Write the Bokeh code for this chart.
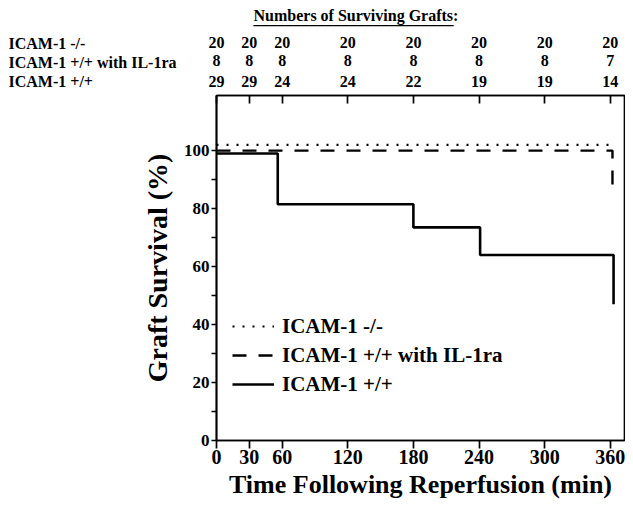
from bokeh.plotting import figure
from bokeh.models import (Range1d, FixedTicker, LinearAxis, Legend, LegendItem,
                          Label, Title)
from bokeh.embed import file_html
from bokeh.resources import INLINE

FONT = "Liberation Serif"

# ---- data -------------------------------------------------------------
times = [0, 30, 60, 120, 180, 240, 300, 360]
n_ko = [20, 20, 20, 20, 20, 20, 20, 20]
n_il1ra = [8, 8, 8, 8, 8, 8, 8, 7]
n_wt = [29, 29, 24, 24, 22, 19, 19, 14]
group_names = ["ICAM-1 -/-", "ICAM-1 +/+ with IL-1ra", "ICAM-1 +/+"]
table_title = "Numbers of Surviving Grafts:"

ko_t = [0, 359]
ko_s = [102, 102]
il_t = [0, 362]
il_s = [100, 87.5]
wt_t = [0, 56, 180, 241, 363]
wt_s = [99, 81.5, 73.5, 64, 47]

x_ticks = [0, 30, 60, 120, 180, 240, 300, 360]
y_ticks = [0, 20, 40, 60, 80, 100]
y_minor = [10, 30, 50, 70, 90]

# ---- geometry ---------------------------------------------------------
LEFT = 216
TOP = 95
FW, FH = 408, 345
X0, X1 = 0, 373
Y0, Y1 = 0, 119
KX = FW / (X1 - X0)
KY = FH / (Y1 - Y0)


def px_to_x(px):
    return X0 + (px - LEFT) / KX


def py_to_y(py):
    return Y0 + (TOP + FH - py) / KY


p = figure(frame_width=FW, frame_height=FH,
           min_border_left=LEFT, min_border_right=1,
           min_border_top=TOP, min_border_bottom=66,
           x_range=Range1d(X0, X1), y_range=Range1d(Y0, Y1),
           output_backend="svg", toolbar_location=None, tools="")
p.xgrid.visible = False
p.ygrid.visible = False
p.outline_line_color = "black"
p.outline_line_width = 1.7
p.background_fill_color = "white"
p.border_fill_color = "white"

xa = p.xaxis[0]
xa.ticker = FixedTicker(ticks=x_ticks, minor_ticks=[])
xa.major_tick_in = 0
xa.major_tick_out = 8
xa.minor_tick_out = 0
xa.major_tick_line_width = 1.7
xa.axis_line_width = 1.7
xa.major_label_text_font = FONT
xa.major_label_text_font_style = "bold"
xa.major_label_text_font_size = "20px"
xa.major_label_text_color = "black"
xa.major_label_standoff = 1
xa.axis_label = "Time Following Reperfusion (min)"
xa.axis_label_text_font = FONT
xa.axis_label_text_font_style = "bold"
xa.axis_label_text_font_size = "26px"
xa.axis_label_text_color = "black"
xa.axis_label_standoff = 3

ya = p.yaxis[0]
ya.ticker = FixedTicker(ticks=y_ticks, minor_ticks=y_minor)
ya.major_tick_in = 0
ya.major_tick_out = 5
ya.minor_tick_in = 0
ya.minor_tick_out = 5
ya.major_tick_line_width = 1.6
ya.minor_tick_line_width = 1.6
ya.axis_line_width = 1.7
ya.major_label_text_font = FONT
ya.major_label_text_font_style = "bold"
ya.major_label_text_font_size = "17px"
ya.major_label_text_color = "black"
ya.major_label_standoff = 2
ya.axis_label = "Graft Survival (%)"
ya.axis_label_text_font = FONT
ya.axis_label_text_font_style = "bold"
ya.axis_label_text_font_size = "28px"
ya.axis_label_text_color = "black"
ya.axis_label_standoff = 8


# ---- table of surviving grafts: one top axis per row ----------------
def count_axis(counts, standoff, with_ticks):
    return LinearAxis(
        ticker=FixedTicker(ticks=times, minor_ticks=[]),
        major_label_overrides={t: str(c) for t, c in zip(times, counts)},
        major_tick_in=8 if with_ticks else 0, major_tick_out=0,
        minor_tick_in=0, minor_tick_out=0,
        major_tick_line_width=1.7,
        major_tick_line_color="black" if with_ticks else None,
        axis_line_color="black" if with_ticks else None, axis_line_width=1.7,
        major_label_standoff=standoff,
        major_label_text_font=FONT, major_label_text_font_style="bold",
        major_label_text_font_size="16px", major_label_text_color="black")


TXT = dict(text_font=FONT, text_font_style="bold", text_font_size="16px",
           text_color="black")

# stacked outward from the frame: +/+ row (with the top ticks), IL-1ra row, -/- row
p.add_layout(count_axis(n_wt, 9, True), "above")
p.add_layout(count_axis(n_il1ra, 7, False), "above")
p.add_layout(count_axis(n_ko, 4, False), "above")

# row names (placed in the border panels so that they are not clipped)
row_py = {"ko": 43, "il": 62, "wt": 82}
p.add_layout(Label(x=px_to_x(8), y=py_to_y(row_py["il"]), text=group_names[1],
                   text_align="left", text_baseline="middle", **TXT), "above")
p.add_layout(Label(x=px_to_x(8), y=py_to_y(row_py["il"]),
                   text=group_names[0] + "\n\n" + group_names[2],
                   text_line_height=1.1,
                   text_align="left", text_baseline="middle", **TXT), "left")

# header and its underline
p.add_layout(Title(text=table_title, align="left", offset=37, standoff=-14,
                   **TXT), "above")
p.add_layout(Title(text="_" * 25, align="left", offset=37, standoff=-30,
                   **TXT), "above")

# ---- curves -----------------------------------------------------------
r_ko = p.step(ko_t, ko_s, mode="after", line_color="black", line_width=2.2, line_dash="2 8")
r_il = p.step(il_t, il_s, mode="after", line_color="black", line_width=2.4, line_dash="14 12")
r_wt = p.step(wt_t, wt_s, mode="after", line_color="black", line_width=2.6)

legend = Legend(items=[LegendItem(label=group_names[0], renderers=[r_ko]),
                       LegendItem(label=group_names[1], renderers=[r_il]),
                       LegendItem(label=group_names[2], renderers=[r_wt])],
                location=(16, 43), padding=0, margin=0, spacing=3,
                label_height=26, glyph_height=26, glyph_width=42, label_standoff=8,
                label_text_font=FONT, label_text_font_style="bold",
                label_text_font_size="21px", label_text_color="black",
                background_fill_alpha=0, border_line_alpha=0)
p.add_layout(legend)

open("out.html", "w").write(file_html(p, INLINE))
